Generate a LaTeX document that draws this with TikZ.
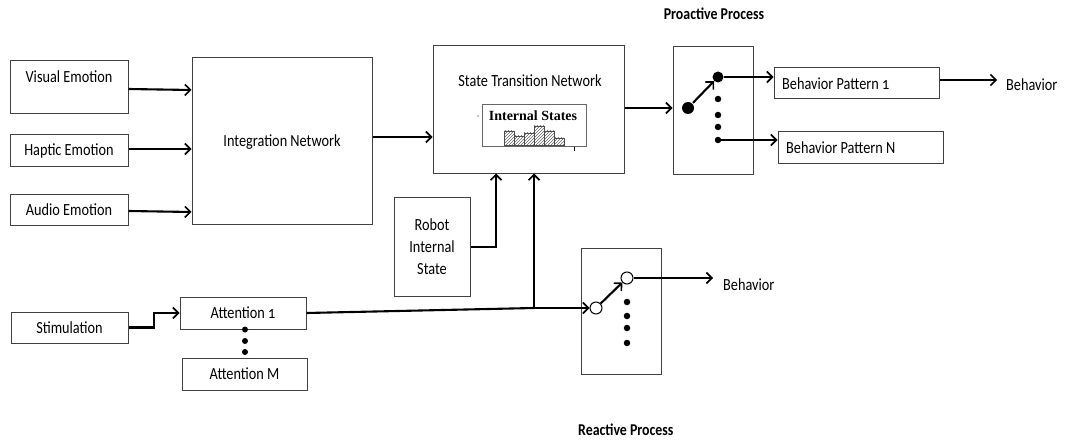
\documentclass[tikz,border=0pt]{standalone}
\usepackage{fontspec}
\setmainfont{Carlito}[FakeStretch=0.84,Numbers=OldStyle]
\newfontfamily\serifbold{Liberation Serif}
\usetikzlibrary{arrows.meta,patterns}
\begin{document}
\begin{tikzpicture}[x=1pt,y=-1pt,
  box/.style={draw=black!75,line width=1pt,inner sep=0pt},
  conn/.style={line width=2.1pt,-{Straight Barb[length=5.5pt,width=11pt,line width=1.6pt]}},
  plain/.style={line width=2.1pt},
  lbl/.style={font=\fontsize{17}{20}\selectfont,inner sep=0pt},
  blbl/.style={font=\fontsize{16.5}{20}\selectfont\bfseries,inner sep=0pt},
  bigdot/.style={circle,fill=black,inner sep=0pt},
  smalldot/.style={circle,fill=black,inner sep=0pt,minimum size=6.5pt},
  opendot/.style={circle,draw=black,line width=1pt,fill=white,inner sep=0pt,minimum size=12pt},
  bar/.style={draw=black!70,line width=0.6pt,pattern=north east lines,pattern color=black!60}]
\useasboundingbox (0,0) rectangle (1065,441);

% left inputs
\node[box,minimum width=118pt,minimum height=53pt] (vis) at (69,87.5) {};
\node[lbl] at (69,77) {Visual Emotion};
\node[box,minimum width=118pt,minimum height=31pt,lbl] (hap) at (69,150.5) {Haptic Emotion};
\node[box,minimum width=118pt,minimum height=31pt,lbl] (aud) at (69,209.5) {Audio Emotion};
\node[box,minimum width=180pt,minimum height=166pt] (int) at (282,141) {};
\node[lbl] at (282,142) {Integration Network};

% state transition network
\node[box,minimum width=191pt,minimum height=127pt] (stn) at (528.5,109.5) {};
\node[lbl] at (530,81) {State Transition Network};
\node[box,draw=black!60,line width=0.7pt,minimum width=104pt,minimum height=42pt] (ins) at (534,125) {};
\node[inner sep=0pt,font=\serifbold\fontsize{14}{16}\selectfont\bfseries] at (533,116) {Internal States};
\draw[bar] (504,145) rectangle (514,131);
\draw[bar] (514,145) rectangle (524,136);
\draw[bar] (524,145) rectangle (534,133);
\draw[bar] (534,145) rectangle (544,126);
\draw[bar] (544,145) rectangle (554,131);
\draw[bar] (554,145) rectangle (564,138);
\fill (478,116) circle (0.6);
\draw[line width=0.7pt] (574,147) -- (574,151);

% robot internal state
\node[box,minimum width=76pt,minimum height=99pt,lbl,align=center] (rob) at (432,246.5) {Robot\\[2pt]Internal\\[2pt]State};

% proactive switch
\node[box,minimum width=80pt,minimum height=127pt] (sw1) at (713,110.5) {};
\node[bigdot,minimum size=12pt] (a1) at (688,108) {};
\node[bigdot,minimum size=11pt] (b1) at (718,77) {};
\node[smalldot] (d11) at (718,99) {};
\node[smalldot] (d12) at (718,115) {};
\node[smalldot] (d13) at (718,127) {};
\node[smalldot] (d14) at (718,140) {};
\node[box,minimum width=165pt,minimum height=31pt] (bp1) at (856.5,83.5) {};
\node[lbl,anchor=west] at (782,84) {Behavior Pattern 1};
\node[box,minimum width=165pt,minimum height=31pt] (bpn) at (860.5,147.5) {};
\node[lbl,anchor=west] at (786,148) {Behavior Pattern N};
\node[lbl,anchor=west] (beh1) at (1006,85) {Behavior};
\node[blbl] (pro) at (714,14) {Proactive Process};

% reactive switch
\node[box,minimum width=80pt,minimum height=126pt] (sw2) at (621,311) {};
\node[opendot] (c2) at (596,308) {};
\node[opendot] (e2) at (627,278) {};
\node[smalldot] (d21) at (627,302) {};
\node[smalldot] (d22) at (627,316) {};
\node[smalldot] (d23) at (627,328) {};
\node[smalldot] (d24) at (627,343) {};
\node[lbl,anchor=west] (beh2) at (723,285) {Behavior};
\node[blbl,anchor=west] (rea) at (578,430) {Reactive Process};

% stimulation and attention
\node[box,minimum width=117pt,minimum height=31pt,lbl] (sti) at (69.5,327.5) {Stimulation};
\node[box,minimum width=126pt,minimum height=32pt,lbl] (at1) at (243,313) {Attention 1};
\node[box,minimum width=125pt,minimum height=32pt,lbl] (atm) at (244.5,374) {Attention M};
\node[smalldot,minimum size=6pt] at (245,329.5) {};
\node[smalldot,minimum size=6pt] at (245,341) {};
\node[smalldot,minimum size=6pt] at (245,352) {};
\coordinate (j) at (534,308);

% connectors
\draw[conn] (vis.east |- 0,89) -- (int.west |- 0,90);
\draw[conn] (hap.east |- 0,149) -- (int.west |- 0,149);
\draw[conn] (aud.east |- 0,211) -- (int.west |- 0,212);
\draw[conn] (int.east |- 0,137) -- (stn.west |- 0,137);
\draw[conn] (stn.east |- a1) -- (sw1.west |- a1);
\draw[conn,shorten <=1pt] (a1) -- (b1);
\draw[conn] (b1.east) -- (bp1.west |- b1);
\draw[conn] (d14.east) -- (bpn.west |- d14);
\draw[conn] (bp1.east |- 0,80) -- ([xshift=-9pt]beh1.west |- 0,80);
\draw[conn] (rob.east |- 0,247) -| (stn.south -| 496,0);
\draw[plain] (at1.east) -- (j);
\draw[conn] (j) -- (c2.west);
\draw[conn] (j) -- (stn.south -| j);
\draw[conn] (c2) -- (e2);
\draw[conn] (e2.east) -- ([xshift=-10pt]beh2.west |- e2);
\draw[conn] (sti.east) -- (154,327.5) -- (154,313) -- (at1.west);
\end{tikzpicture}
\end{document}
